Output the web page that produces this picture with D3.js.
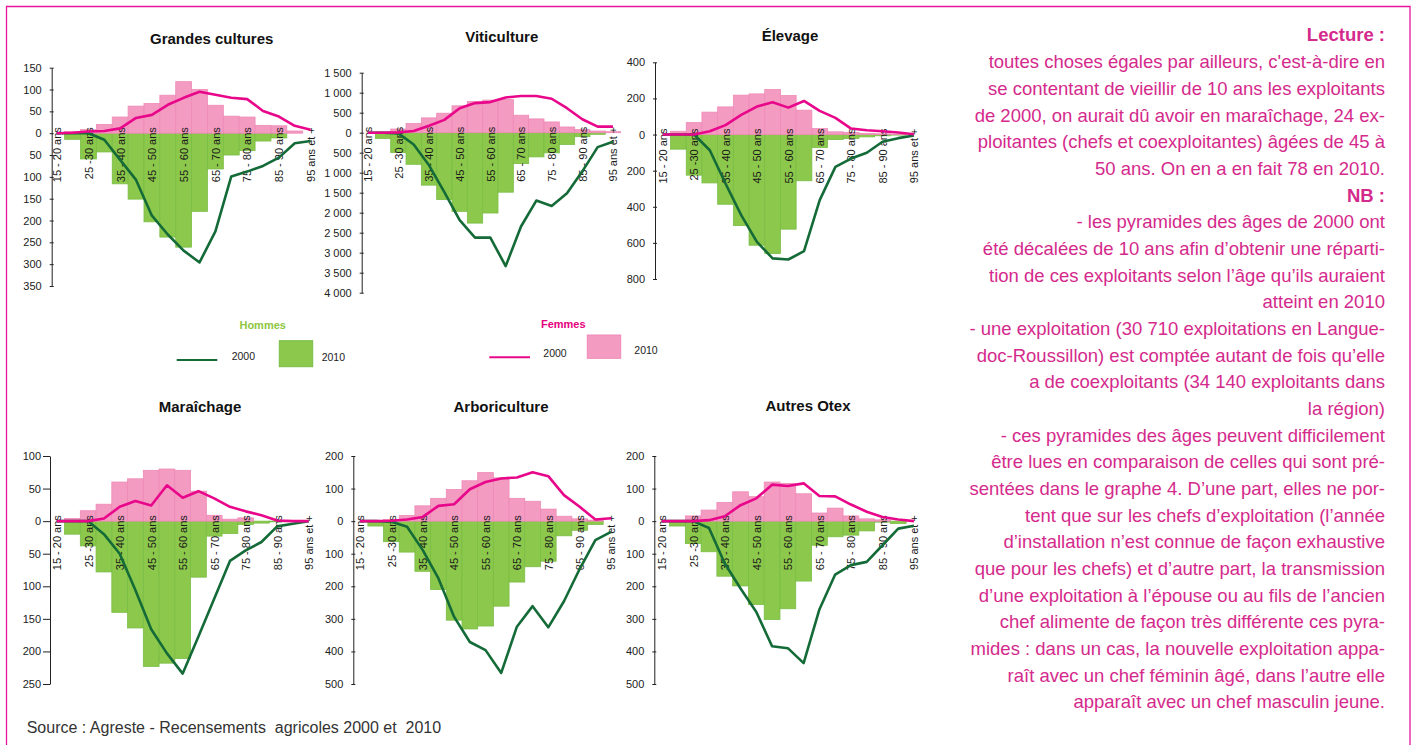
<!DOCTYPE html>
<html>
<head>
<meta charset="utf-8">
<script src="https://cdn.jsdelivr.net/npm/d3@7"></script>
<style>
  body { margin: 0; background: #fff; }
  svg { display: block; font-family: "Liberation Sans", Arial, sans-serif; }
</style>
</head>
<body>
<svg id="chart" width="1413" height="745"></svg>
<script>
// age groups on the x axis (one label out of two is printed)
var ageGroups = ["15 - 20 ans", "20 - 25 ans", "25 -30 ans", "30 - 35 ans", "35 - 40 ans", "40 - 45 ans",
  "45 - 50 ans", "50 - 55 ans", "55 - 60 ans", "60 - 65 ans", "65 - 70 ans", "70 - 75 ans",
  "75 - 80 ans", "80 - 85 ans", "85 - 90 ans", "90 - 95 ans", "95 ans et +"];

// H = hommes (drawn below zero), F = femmes (drawn above zero)
// 2010 = bars, 2000 (shifted by 10 years) = lines
var gcH2010 = [0, 14, 59, 43, 116, 151, 203, 238, 261, 179, 82, 50, 40, 18, 11, 0, 0];
var gcF2010 = [0, 4, 8, 20, 37, 62, 68, 87, 118, 100, 64, 39, 37, 18, 17, 5, 0];
var gcH2000 = [0, 0, 0, 15, 61, 107, 189, 232, 269, 296, 225, 99, 88, 75, 56, 23, 18];
var gcF2000 = [0, 1, 4, 5, 11, 35, 42, 65, 81, 95, 88, 81, 78, 51, 38, 17, 8];

var viH2010 = [0, 143, 496, 790, 1311, 1672, 1966, 2260, 2008, 1487, 773, 605, 504, 294, 100, 40, 0];
var viF2010 = [0, 20, 92, 227, 370, 487, 672, 781, 815, 832, 437, 345, 269, 143, 76, 42, 25];
var viH2000 = [0, 0, 17, 294, 815, 1487, 2185, 2622, 2622, 3336, 2345, 1697, 1832, 1513, 966, 361, 227];
var viF2000 = [0, 0, 8, 42, 176, 320, 613, 740, 765, 882, 916, 916, 849, 613, 336, 151, 151];

var elH2010 = [0, 81, 225, 268, 386, 504, 613, 659, 524, 256, 72, 28, 22, 13, 7, 3, 0];
var elF2010 = [0, 18, 66, 124, 153, 218, 225, 249, 216, 135, 33, 15, 11, 6, 4, 2, 0];
var elH2000 = [0, 0, 0, 87, 271, 446, 594, 686, 692, 646, 363, 179, 133, 101, 40, 20, 5];
var elF2000 = [0, 0, 0, 18, 52, 109, 155, 179, 149, 186, 131, 92, 33, 24, 18, 11, 2];

var maH2010 = [0, 20, 38, 78, 140, 164, 223, 218, 211, 86, 23, 19, 5, 3, 1, 0, 0];
var maF2010 = [0, 4, 16, 26, 60, 65, 78, 80, 78, 46, 9, 3, 5, 0, 0, 0, 0];
var maH2000 = [0, 0, 0, 20, 50, 106, 166, 203, 234, 177, 119, 61, 45, 32, 8, 4, 0];
var maF2000 = [0, 0, 0, 4, 22, 31, 24, 55, 36, 46, 35, 22, 15, 9, 1, 0, 0];

var arH2010 = [0, 15, 63, 95, 154, 210, 304, 331, 322, 261, 187, 140, 123, 45, 28, 10, 0];
var arF2010 = [0, 2, 5, 17, 47, 70, 97, 124, 149, 133, 70, 61, 37, 15, 7, 3, 0];
var arH2000 = [0, 0, 2, 17, 89, 176, 294, 371, 396, 466, 324, 261, 326, 246, 147, 58, 33];
var arF2000 = [0, 0, 1, 5, 13, 47, 52, 98, 120, 131, 134, 150, 138, 80, 44, 5, 9];

var aoH2010 = [0, 15, 69, 94, 169, 199, 256, 302, 269, 184, 74, 48, 43, 30, 3, 7, 0];
var aoF2010 = [0, 0, 16, 34, 57, 90, 75, 120, 116, 84, 25, 40, 16, 7, 4, 0, 0];
var aoH2000 = [0, 0, 0, 21, 130, 207, 279, 384, 390, 436, 271, 164, 135, 125, 74, 23, 14];
var aoF2000 = [0, 0, 0, 3, 15, 49, 70, 112, 108, 116, 77, 76, 51, 29, 13, 5, 0];

// panel titles and y axis extents / tick steps
var titles = ["Grandes cultures", "Viticulture", "Élevage", "Maraîchage", "Arboriculture", "Autres Otex"];
var yMax = [150, 1500, 400, 100, 200, 200];
var yMin = [350, 4000, 800, 250, 500, 500];
var yStep = [50, 500, 200, 50, 100, 100];

var legendYears = ["2000", "2010"];

var noteLines = [
  ["Lecture :", true],
  ["toutes choses égales par ailleurs, c'est-à-dire en", false],
  ["se contentant de vieillir de 10 ans les exploitants", false],
  ["de 2000, on aurait dû avoir en maraîchage, 24 ex-", false],
  ["ploitantes (chefs et coexploitantes) âgées de 45 à", false],
  ["50 ans. On en a en fait 78 en 2010.", false],
  ["NB :", true],
  ["- les pyramides des âges de 2000 ont", false],
  ["été décalées de 10 ans afin d’obtenir une réparti-", false],
  ["tion de ces exploitants selon l’âge qu’ils auraient", false],
  ["atteint en 2010", false],
  ["- une exploitation (30 710 exploitations en Langue-", false],
  ["doc-Roussillon) est comptée autant de fois qu’elle", false],
  ["a de coexploitants (34 140 exploitants dans", false],
  ["la région)", false],
  ["- ces pyramides des âges peuvent difficilement", false],
  ["être lues en comparaison de celles qui sont pré-", false],
  ["sentées dans le graphe 4. D’une part, elles ne por-", false],
  ["tent que sur les chefs d’exploitation (l’année", false],
  ["d’installation n’est connue de façon exhaustive", false],
  ["que pour les chefs) et d’autre part, la transmission", false],
  ["d’une exploitation à l’épouse ou au fils de l’ancien", false],
  ["chef alimente de façon très différente ces pyra-", false],
  ["mides : dans un cas, la nouvelle exploitation appa-", false],
  ["raît avec un chef féminin âgé, dans l’autre elle", false],
  ["apparaît avec un chef masculin jeune.", false]
];

// layout of each small chart
var panels = [
  { h10: gcH2010, f10: gcF2010, h00: gcH2000, f00: gcF2000, axisX: 51.7, x0: 56.7, step: 15.87, top: 67.7, bottom: 286, tx: 211.7, ty: 39, tickIn: 2, tickOut: 2, pad: 8 },
  { h10: viH2010, f10: viF2010, h00: viH2000, f00: viF2000, axisX: 361.7, x0: 367.7, step: 15.33, top: 72.7, bottom: 292.7, tx: 501.7, ty: 37, tickIn: 2, tickOut: 2, pad: 8 },
  { h10: elH2010, f10: elF2010, h00: elH2000, f00: elF2000, axisX: 655, x0: 662.7, step: 15.7, top: 62.3, bottom: 279, tx: 790, ty: 36, tickIn: 2, tickOut: 2, pad: 8 },
  { h10: maH2010, f10: maF2010, h00: maH2000, f00: maF2000, axisX: 50, x0: 56.7, step: 15.75, top: 456, bottom: 684, tx: 200, ty: 407, tickIn: 7, tickOut: 0, pad: 2 },
  { h10: arH2010, f10: arF2010, h00: arH2000, f00: arF2000, axisX: 353.3, x0: 360, step: 15.69, top: 456, bottom: 684, tx: 501, ty: 407, tickIn: 2, tickOut: 2, pad: 8 },
  { h10: aoH2010, f10: aoF2010, h00: aoH2000, f00: aoF2000, axisX: 654.3, x0: 661.7, step: 15.77, top: 456, bottom: 684, tx: 808, ty: 406, tickIn: 2, tickOut: 2, pad: 8 }
];

var colH = "#8cc84b", colHedge = "#79bd45", colHline = "#146b38";
var colF = "#f49bc1", colFedge = "#ee8ab7", colFline = "#e8078a";
var colText = "#d42a8c";

var svg = d3.select("#chart");
var fmt = d3.formatLocale({ decimal: ",", thousands: " ", grouping: [3], currency: ["", "€"] }).format(",");

// pink frame
svg.append("path")
  .attr("d", "M6.5,745 V6.5 H1410 V745")
  .attr("fill", "none").attr("stroke", "#e6159a").attr("stroke-width", 1.3);

panels.forEach(function (p, k) {
  var x = d3.scalePoint().domain(ageGroups).range([p.x0, p.x0 + p.step * (ageGroups.length - 1)]);
  var y = d3.scaleLinear().domain([yMax[k], -yMin[k]]).range([p.top, p.bottom]);
  var g = svg.append("g");

  g.append("text").attr("x", p.tx).attr("y", p.ty).attr("dy", "0.35em")
    .attr("text-anchor", "middle").attr("font-size", 15).attr("font-weight", "bold").attr("fill", "#111")
    .text(titles[k]);

  // 2010 bars
  g.append("g").selectAll("rect").data(p.h10).enter().append("rect")
    .attr("x", function (d, i) { return x(ageGroups[i]) - p.step / 2; })
    .attr("y", y(0))
    .attr("width", p.step)
    .attr("height", function (d) { return y(-d) - y(0); })
    .attr("fill", colH).attr("stroke", colHedge).attr("stroke-width", 0.8);
  g.append("g").selectAll("rect").data(p.f10).enter().append("rect")
    .attr("x", function (d, i) { return x(ageGroups[i]) - p.step / 2; })
    .attr("y", function (d) { return y(d); })
    .attr("width", p.step)
    .attr("height", function (d) { return y(0) - y(d); })
    .attr("fill", colF).attr("stroke", colFedge).attr("stroke-width", 0.8);

  // age labels
  var xa = g.append("g").attr("transform", "translate(0," + y(0) + ")")
    .call(d3.axisBottom(x).tickValues(ageGroups.filter(function (d, i) { return i % 2 == 0; })).tickSize(0));
  xa.select(".domain").remove();
  xa.selectAll("text")
    .attr("transform", "rotate(-90)").attr("x", 6).attr("y", 0).attr("dy", "0.35em")
    .style("text-anchor", "end").attr("font-size", 11).attr("fill", "#1a1a1a")
    .attr("font-family", "Liberation Sans, Arial, sans-serif");

  // 2000 lines
  var lineH = d3.line().x(function (d, i) { return x(ageGroups[i]); }).y(function (d) { return y(-d); });
  var lineF = d3.line().x(function (d, i) { return x(ageGroups[i]); }).y(function (d) { return y(d); });
  g.append("path").datum(p.h00).attr("d", lineH)
    .attr("fill", "none").attr("stroke", colHline).attr("stroke-width", 2.6).attr("stroke-linejoin", "round");
  g.append("path").datum(p.f00).attr("d", lineF)
    .attr("fill", "none").attr("stroke", colFline).attr("stroke-width", 2.6).attr("stroke-linejoin", "round");

  // y axis
  var ticks = d3.range(yMax[k], -yMin[k] - 1, -yStep[k]);
  var ya = g.append("g").attr("transform", "translate(" + p.axisX + ",0)")
    .call(d3.axisLeft(y).tickValues(ticks).tickFormat(function (d) { return fmt(Math.abs(d)); })
      .tickSizeInner(p.tickIn).tickSizeOuter(0).tickPadding(p.pad));
  ya.select(".domain").attr("stroke", "#222");
  ya.selectAll(".tick line").attr("x1", p.tickOut).attr("stroke", "#222");
  ya.selectAll("text").attr("font-size", 11).attr("fill", "#222")
    .attr("font-family", "Liberation Sans, Arial, sans-serif");
});

// legend
var lg = svg.append("g").attr("font-size", 10.5).attr("fill", "#222");
lg.append("text").attr("x", 262.7).attr("y", 325).attr("dy", "0.35em").attr("text-anchor", "middle")
  .attr("font-size", 11).attr("font-weight", "bold").attr("fill", "#8dc63f").text("Hommes");
lg.append("line").attr("x1", 176.7).attr("x2", 217.3).attr("y1", 360).attr("y2", 360)
  .attr("stroke", colHline).attr("stroke-width", 2);
lg.append("text").attr("x", 231.7).attr("y", 356).attr("dy", "0.35em").text(legendYears[0]);
lg.append("rect").attr("x", 279.3).attr("y", 340.7).attr("width", 33.4).attr("height", 26)
  .attr("fill", colH).attr("stroke", colHedge).attr("stroke-width", 1);
lg.append("text").attr("x", 321.7).attr("y", 357.7).attr("dy", "0.35em").text(legendYears[1]);

lg.append("text").attr("x", 563.3).attr("y", 324.3).attr("dy", "0.35em").attr("text-anchor", "middle")
  .attr("font-size", 11).attr("font-weight", "bold").attr("fill", "#e6007e").text("Femmes");
lg.append("line").attr("x1", 489.3).attr("x2", 530).attr("y1", 357.3).attr("y2", 357.3)
  .attr("stroke", colFline).attr("stroke-width", 2);
lg.append("text").attr("x", 543.3).attr("y", 353.3).attr("dy", "0.35em").text(legendYears[0]);
lg.append("rect").attr("x", 587.3).attr("y", 335).attr("width", 33.4).attr("height", 23.3)
  .attr("fill", colF).attr("stroke", colFedge).attr("stroke-width", 1);
lg.append("text").attr("x", 634.3).attr("y", 350.7).attr("dy", "0.35em").text(legendYears[1]);

// notes on the right
svg.append("g").selectAll("text").data(noteLines).enter().append("text")
  .attr("x", 1385)
  .attr("y", function (d, i) { return 35 + i * 26.68; })
  .attr("dy", "0.35em")
  .attr("text-anchor", "end")
  .attr("font-size", 18.5)
  .attr("font-weight", function (d) { return d[1] ? "bold" : "normal"; })
  .attr("fill", colText)
  .text(function (d) { return d[0]; });

// source
svg.append("text").attr("x", 26.7).attr("y", 727.3).attr("dy", "0.35em")
  .attr("font-size", 16).attr("fill", "#333")
  .text("Source : Agreste - Recensements  agricoles 2000 et  2010")
  .style("white-space", "pre");
</script>
</body>
</html>
